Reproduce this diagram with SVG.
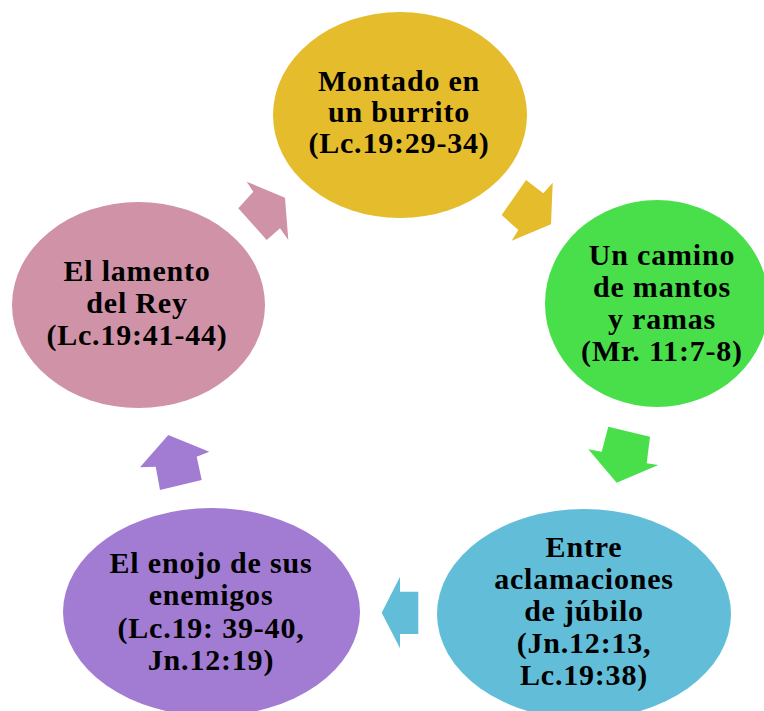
<svg xmlns="http://www.w3.org/2000/svg" width="764" height="711" viewBox="0 0 764 711">
<style>
text{font-family:"Liberation Serif","DejaVu Serif",serif;font-weight:bold;font-size:30px;letter-spacing:0.8px;fill:#000;text-anchor:middle}
</style>
<rect width="764" height="711" fill="#fff"/>
<g id="connectors">
<polygon fill="#E5BC2B" points="526,180 543.3,193.3 552.7,182.7 551,224.3 511.7,240.7 518.3,230 501.7,215"/>
<polygon fill="#48DF4A" points="608.3,426.7 650,436.7 646.7,463.3 658.3,465 616.7,482.7 588.3,449.3 601.7,451.7"/>
<polygon fill="#62BED8" points="418.3,591.7 400,591.7 400,576.7 381.7,612.7 400,648.3 400,634 418.3,634"/>
<polygon fill="#A27CD3" points="160,490 155.7,466.7 140,467.3 168.3,435 209.3,451.7 196.7,456.7 201.7,480"/>
<polygon fill="#D092A6" points="238.3,208.3 253.3,191.7 246.7,181.7 285,197.7 288.3,240 280,228.3 266.7,240"/>
</g>
<g id="node1">
<ellipse cx="400" cy="115" rx="127" ry="103" fill="#E5BC2B"/>
<text x="399" y="91">Montado en</text>
<text x="399" y="122">un burrito</text>
<text x="399" y="153">(Lc.19:29-34)</text>
</g>
<g id="node2">
<ellipse cx="657" cy="303.5" rx="112" ry="103.5" fill="#48DF4A"/>
<text x="662" y="265">Un camino</text>
<text x="662" y="297">de mantos</text>
<text x="662" y="329">y ramas</text>
<text x="662" y="361">(Mr. 11:7-8)</text>
</g>
<g id="node3">
<ellipse cx="584" cy="614" rx="147" ry="105" fill="#62BED8"/>
<text x="584" y="557">Entre</text>
<text x="584" y="589">aclamaciones</text>
<text x="584" y="621">de júbilo</text>
<text x="584" y="653">(Jn.12:13,</text>
<text x="584" y="685">Lc.19:38)</text>
</g>
<g id="node4">
<ellipse cx="211.5" cy="612" rx="148.5" ry="104" fill="#A27CD3"/>
<text x="211" y="573">El enojo de sus</text>
<text x="211" y="605">enemigos</text>
<text x="211" y="638">(Lc.19: 39-40,</text>
<text x="211" y="670">Jn.12:19)</text>
</g>
<g id="node5">
<ellipse cx="138.5" cy="305" rx="126.5" ry="103" fill="#D092A6"/>
<text x="137" y="281">El lamento</text>
<text x="137" y="313">del Rey</text>
<text x="137" y="345">(Lc.19:41-44)</text>
</g>
</svg>
